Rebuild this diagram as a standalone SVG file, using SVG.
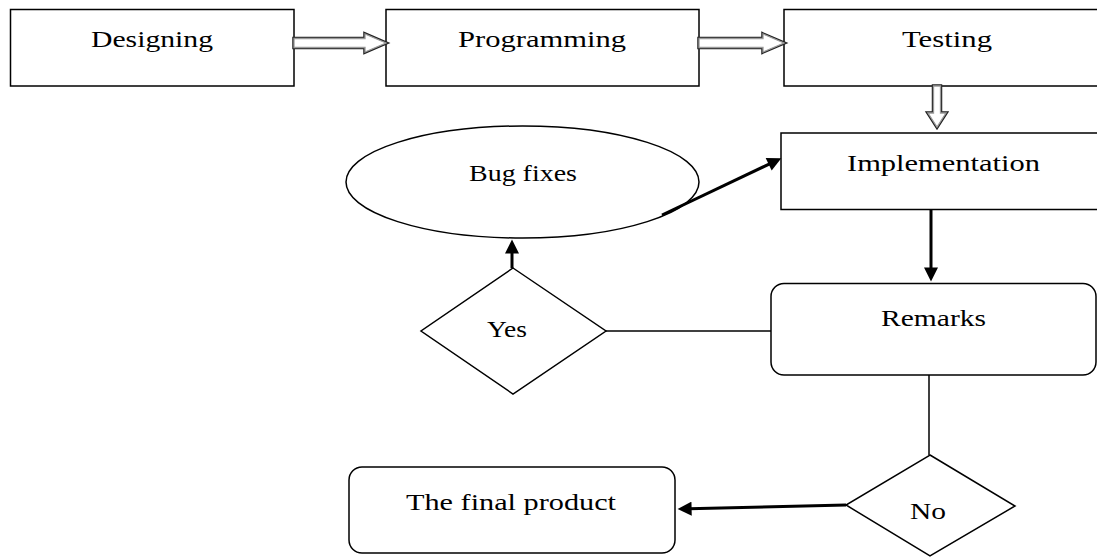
<svg xmlns="http://www.w3.org/2000/svg" width="1097" height="557" viewBox="0 0 1097 557">
  <style>
    .box { fill: #fff; stroke: #000; stroke-width: 1.5; }
    .lbl { font-family: "Liberation Serif", "DejaVu Serif", serif; font-size: 23px; fill: #000; }
    .blk-o { fill: #fff; stroke: #222; stroke-width: 3.5; stroke-linejoin: miter; }
    .blk-i { fill: #fff; stroke: #9a9a9a; stroke-width: 1.3; stroke-linejoin: miter; }
    .thick { fill: none; stroke: #000; stroke-width: 3; }
    .thin { fill: none; stroke: #000; stroke-width: 1.5; }
  </style>
  <defs>
    <marker id="ah" viewBox="0 0 10 10" refX="2" refY="5" markerWidth="16" markerHeight="14" markerUnits="userSpaceOnUse" orient="auto">
      <path d="M0,0 L10,5 L0,10 z" fill="#000"/>
    </marker>
  </defs>
  <rect width="1097" height="557" fill="#fff"/>

  <g id="designing">
    <rect class="box" x="10.5" y="9.5" width="283.5" height="76.5"/>
    <text class="lbl" x="91" y="47" textLength="122" lengthAdjust="spacingAndGlyphs">Designing</text>
  </g>
  <g id="programming">
    <rect class="box" x="386" y="9.5" width="313" height="76.5"/>
    <text class="lbl" x="458" y="47" textLength="168" lengthAdjust="spacingAndGlyphs">Programming</text>
  </g>
  <g id="testing">
    <rect class="box" x="784" y="9.5" width="330" height="76.5"/>
    <text class="lbl" x="902" y="47" textLength="90" lengthAdjust="spacingAndGlyphs">Testing</text>
  </g>
  <g id="implementation">
    <rect class="box" x="781" y="133" width="330" height="76.5"/>
    <text class="lbl" x="847" y="171" textLength="193" lengthAdjust="spacingAndGlyphs">Implementation</text>
  </g>
  <g id="bug-fixes">
    <ellipse class="box" cx="522.5" cy="182" rx="176.5" ry="56"/>
    <text class="lbl" x="469" y="181" textLength="108" lengthAdjust="spacingAndGlyphs">Bug fixes</text>
  </g>
  <g id="yes">
    <polygon class="box" points="513,268 606,331 513,394 421,331"/>
    <text class="lbl" x="487" y="337" textLength="40" lengthAdjust="spacingAndGlyphs">Yes</text>
  </g>
  <g id="remarks">
    <rect class="box" x="771" y="283.5" width="325" height="91.5" rx="13" ry="13"/>
    <text class="lbl" x="881" y="326" textLength="105" lengthAdjust="spacingAndGlyphs">Remarks</text>
  </g>
  <g id="no">
    <polygon class="box" points="930,455 1015,506 930,556 846,505"/>
    <text class="lbl" x="910" y="519" textLength="36" lengthAdjust="spacingAndGlyphs">No</text>
  </g>
  <g id="final-product">
    <rect class="box" x="349" y="467" width="326" height="86" rx="13" ry="13"/>
    <text class="lbl" x="406" y="510" textLength="210" lengthAdjust="spacingAndGlyphs">The final product</text>
  </g>

  <g id="connectors">
    <polygon class="blk-o" points="294,38.5 365,38.5 365,34 386,43 365,52 365,47.5 294,47.5"/>
    <polygon class="blk-i" points="294,38.5 365,38.5 365,34 386,43 365,52 365,47.5 294,47.5"/>
    <polygon class="blk-o" points="699,38.5 763,38.5 763,34 784,43 763,52 763,47.5 699,47.5"/>
    <polygon class="blk-i" points="699,38.5 763,38.5 763,34 784,43 763,52 763,47.5 699,47.5"/>
    <polygon class="blk-o" points="933.5,86 940.5,86 940.5,113 946,113 937,127 928,113 933.5,113"/>
    <polygon class="blk-i" points="933.5,86 940.5,86 940.5,113 946,113 937,127 928,113 933.5,113"/>
    <line class="thick" x1="662" y1="215" x2="771.2" y2="163.1" marker-end="url(#ah)"/>
    <line class="thick" x1="512" y1="268" x2="512" y2="250.8" marker-end="url(#ah)"/>
    <line class="thick" x1="931" y1="209.5" x2="931" y2="270.2" marker-end="url(#ah)"/>
    <line class="thick" x1="846" y1="505" x2="688.8" y2="508.7" marker-end="url(#ah)"/>
    <line class="thin" x1="606" y1="331" x2="771" y2="331"/>
    <line class="thin" x1="929" y1="375" x2="929" y2="455"/>
  </g>
</svg>
